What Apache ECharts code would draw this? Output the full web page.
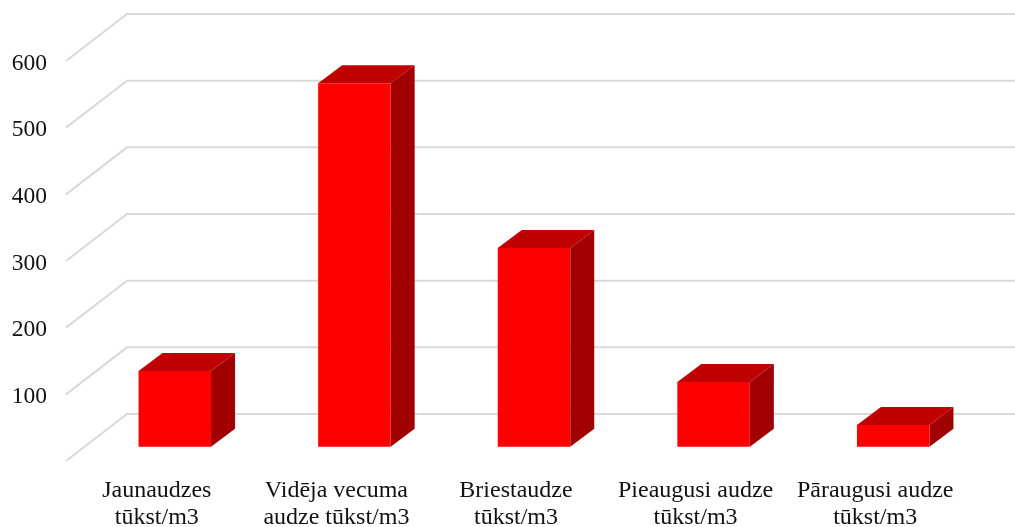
<!DOCTYPE html>
<html>
<head>
<meta charset="utf-8">
<style>
    html, body { margin: 0; padding: 0; background: #fff; }
    #main { width: 1015px; height: 527px; }
</style>
<script src="https://cdn.jsdelivr.net/npm/echarts@6/dist/echarts.min.js"></script>
</head>
<body>
<div id="main"></div>
<script>
'use strict';

var categories = [
    'Jaunaudzes\ntūkst/m3',
    'Vidēja vecuma\naudze tūkst/m3',
    'Briestaudze\ntūkst/m3',
    'Pieaugusi audze\ntūkst/m3',
    'Pāraugusi audze\ntūkst/m3'
];
var values = [113.5, 545, 298, 97, 32.5];
var yTicks = [0, 100, 200, 300, 400, 500, 600];

var fontName = '"Liberation Serif", "Times New Roman", serif';

// offsets of the fake 3d box, pixels
var wallDx = 61, wallDy = -47;
var barDx = 18, barDy = -14.3;
var depthDx = 24, depthDy = -18;
var barWidth = 72.5;

var renderGrid = function (params, api) {
    var p = api.coord([0, api.value(1)]);
    var left = params.coordSys.x;
    var y = p[1];
    return {
        type: 'polyline',
        shape: {
            points: [
                [left - 1, y],
                [left + wallDx - 1, y + wallDy],
                [api.getWidth(), y + wallDy]
            ]
        },
        style: { fill: null, stroke: '#d9d9d9', lineWidth: 2 },
        silent: true
    };
};

var renderBar = function (params, api) {
    var top = api.coord([api.value(0), api.value(1)]);
    var base = api.coord([api.value(0), 0]);
    var x1 = top[0] + barDx - barWidth / 2;
    var x2 = x1 + barWidth;
    var yTop = top[1] + barDy;
    var yBase = base[1] + barDy;
    return {
        type: 'group',
        children: [
            {
                type: 'polygon',
                shape: { points: [[x2, yTop], [x2 + depthDx, yTop + depthDy], [x2 + depthDx, yBase + depthDy], [x2, yBase]] },
                style: { fill: '#a00000' }
            },
            {
                type: 'polygon',
                shape: { points: [[x1, yTop], [x1 + depthDx, yTop + depthDy], [x2 + depthDx, yTop + depthDy], [x2, yTop]] },
                style: { fill: '#c00000' }
            },
            {
                type: 'rect',
                shape: { x: x1, y: yTop, width: barWidth, height: yBase - yTop },
                style: { fill: '#ff0000' }
            }
        ]
    };
};

var myChart = echarts.init(document.getElementById('main'), null, { renderer: 'canvas' });

var option = {
    animation: false,
    backgroundColor: '#fff',
    grid: {
        left: 67,
        top: 61,
        width: 898,
        height: 400,
        outerBoundsMode: 'none'
    },
    xAxis: {
        type: 'category',
        data: categories,
        axisLine: { show: false },
        axisTick: { show: false },
        axisLabel: {
            interval: 0,
            margin: 16,
            color: '#111',
            fontFamily: fontName,
            fontSize: 24,
            lineHeight: 27
        }
    },
    yAxis: {
        type: 'value',
        min: 0,
        max: 600,
        interval: 100,
        axisLine: { show: false },
        axisTick: { show: false },
        splitLine: { show: false },
        axisLabel: {
            margin: 20,
            formatter: function (val) {
                return val === 0 ? '' : '{t|' + val + '}';
            },
            rich: {
                // nudges the digits down a little
                t: {
                    padding: [5, 0, 0, 0],
                    color: '#111',
                    fontFamily: fontName,
                    fontSize: 23.5
                }
            }
        }
    },
    series: [
        {
            type: 'custom',
            renderItem: renderGrid,
            clip: false,
            silent: true,
            z: 1,
            data: yTicks.map(function (t) { return [0, t]; })
        },
        {
            type: 'custom',
            renderItem: renderBar,
            clip: false,
            z: 2,
            data: values.map(function (v, i) { return [i, v]; })
        }
    ]
};

myChart.setOption(option);
</script>
</body>
</html>
